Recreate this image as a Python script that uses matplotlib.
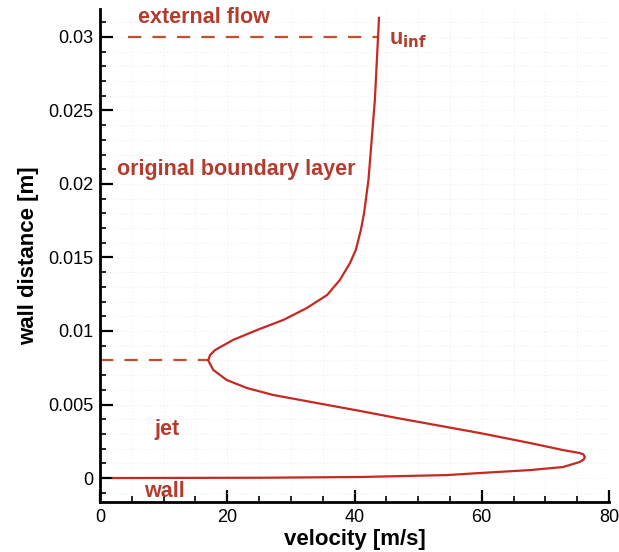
import matplotlib
matplotlib.use("Agg")
import matplotlib.pyplot as plt
from matplotlib.ticker import MultipleLocator, FixedFormatter, FixedLocator

plt.rcParams["font.family"] = ["Liberation Sans", "DejaVu Sans"]

# velocity profile, ordered from the wall upward
wall_distance = [0.0, 0.00002, 0.00007, 0.0002, 0.00034, 0.00054, 0.00075, 0.00109,
                 0.00125, 0.00143, 0.0016, 0.0017, 0.0019, 0.00238, 0.00306, 0.00408,
                 0.00456, 0.0051, 0.00565, 0.00612, 0.00667, 0.00735, 0.0080, 0.00837,
                 0.00871, 0.00939, 0.01014, 0.01075, 0.01156, 0.01245, 0.01347, 0.01463,
                 0.01551, 0.01687, 0.0180, 0.0203, 0.0257, 0.0300, 0.0313]
velocity = [2.0, 25.6, 40.9, 54.5, 59.7, 67.6, 72.8, 75.4,
            76.0, 76.2, 76.0, 75.4, 72.8, 67.6, 59.7, 46.7,
            40.9, 34.1, 27.2, 23.1, 19.9, 17.8, 17.0, 17.3,
            18.1, 20.9, 25.1, 28.8, 32.5, 35.7, 37.7, 39.3,
            40.2, 41.0, 41.5, 42.2, 43.2, 43.7, 43.85]

u_inf = 43.7
y_ext = 0.030
y_jet_edge = 0.008
u_jet_edge = 17.0

x_ticks = [0, 20, 40, 60, 80]
y_ticks = [0, 0.005, 0.01, 0.015, 0.02, 0.025, 0.03]
y_tick_labels = ["0", "0.005", "0.01", "0.015", "0.02", "0.025", "0.03"]

curve_col = "#c62822"
dash_col = "#c2502c"
text_col = "#b43c2e"

fig = plt.figure(figsize=(6.19, 5.52), dpi=100)
ax = fig.add_axes([0.1616, 0.0906, 0.8222, 0.8931])

ax.plot(velocity, wall_distance, color=curve_col, lw=1.6, zorder=3,
        solid_joinstyle="round")
ax.plot([4.4, u_inf], [y_ext, y_ext], color=dash_col, lw=1.6, dashes=(6, 5), zorder=2)
ax.plot([0, u_jet_edge], [y_jet_edge, y_jet_edge], color=dash_col, lw=1.6, dashes=(6, 5), zorder=2)

tk = dict(color=text_col, fontsize=15.5, fontweight="bold", va="center")
ax.text(6.0, 0.0313, "external flow", **tk)
ax.text(45.5, 0.0298, r"u$_{\mathbf{inf}}$", **tk)
ax.text(2.6, 0.02095, "original boundary layer", **tk)
ax.text(8.6, 0.00327, "jet", **tk)
ax.text(6.9, -0.00095, "wall", **tk)

ax.set_xlim(0, 80)
ax.set_ylim(-0.00163, 0.0319)

ax.xaxis.set_major_locator(FixedLocator(x_ticks))
ax.xaxis.set_minor_locator(MultipleLocator(5))
ax.yaxis.set_major_locator(FixedLocator(y_ticks))
ax.yaxis.set_major_formatter(FixedFormatter(y_tick_labels))
ax.yaxis.set_minor_locator(MultipleLocator(0.001))

ax.grid(which="both", color="#e4e4e4", lw=0.6, ls=(0, (1, 3)), zorder=0)

for side in ["top", "right"]:
    ax.spines[side].set_visible(False)
for side in ["left", "bottom"]:
    ax.spines[side].set_linewidth(2.0)

ax.tick_params(which="major", direction="in", length=9, width=1.6, labelsize=13, pad=5)
ax.tick_params(which="minor", direction="in", length=4.5, width=1.2)

ax.set_xlabel("velocity [m/s]", fontsize=16, fontweight="bold", labelpad=2)
ax.set_ylabel("wall distance [m]", fontsize=16, fontweight="bold", labelpad=6)

fig.savefig("out.png", dpi=100)
